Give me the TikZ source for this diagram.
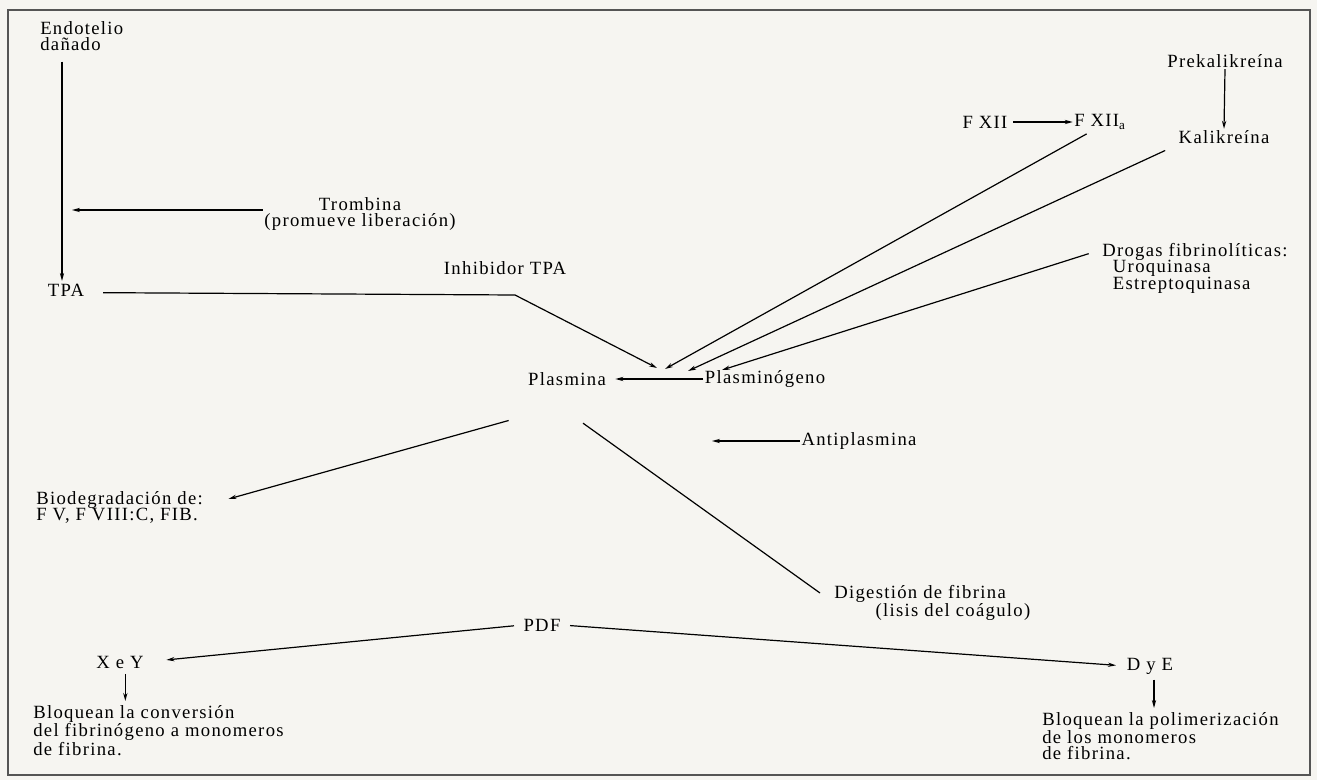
\documentclass[tikz,border=0pt]{standalone}
\usepackage{fontspec}
\setmainfont{Liberation Serif}[LetterSpace=7]
\usepackage{xcolor}
\usetikzlibrary{arrows.meta}

\definecolor{paper}{RGB}{246,245,241}
\definecolor{rule}{RGB}{85,85,85}

\tikzset{
  txt/.style={inner sep=1pt, font=\fontsize{14}{12.3}\selectfont},
  blk/.style={txt, inner sep=0pt, align=left, anchor=north west},
  arr/.style={-{Stealth[length=6pt,width=3.2pt]}, line width=0.9pt},
  ln/.style={line width=0.9pt}
}

\begin{document}
\begin{tikzpicture}[x=0.75pt,y=-0.75pt]
  \fill[paper] (0,0) rectangle (1317,780);
  \draw[rule, line width=1.1pt] (8,10) rectangle (1310,775);

  % nodes
  \node[blk] (endo) at (40,21) {Endotelio\\dañado};
  \node[txt,align=center] (trom) at (360,214) {Trombina\\(promueve liberación)};
  \node[txt] (tpa) at (66,290) {TPA};
  \node[txt] (inh) at (505,268) {Inhibidor TPA};
  \node[txt] (plas) at (567,379) {Plasmina};
  \node[txt] (plg) at (765,379) {Plasminógeno};
  \node[txt] (fxii) at (985,122) {F XII};
  \node[txt] (fxiia) at (1100,122) {F XII\textsubscript{a}};
  \node[txt] (prek) at (1225,61) {Prekalikreína};
  \node[txt] (kal) at (1224,137) {Kalikreína};
  \node[blk] (drog) at (1102,243) {Drogas fibrinolíticas:\\\hspace*{8pt}Uroquinasa\\\hspace*{8pt}Estreptoquinasa};
  \node[blk] (bio) at (36,491) {Biodegradación de:\\F V, F VIII:C, FIB.};
  \node[txt] (anti) at (859,441) {Antiplasmina};
  \node[blk] (dig) at (834,585) {Digestión de fibrina\\\hspace*{31pt}(lisis del coágulo)};
  \node[txt] (pdf) at (542,625) {PDF};
  \node[txt] (xey) at (120,662) {X e Y};
  \node[blk] (blq1) at (33,705) {Bloquean la conversión\\del fibrinógeno a monomeros\\de fibrina.};
  \node[txt] (dye) at (1150,666) {D y E};
  \node[blk] (blq2) at (1042,712) {Bloquean la polimerización\\de los monomeros\\de fibrina.};

  % free ends
  \coordinate (tromend) at (72,210);
  \coordinate (bend) at (515,295);
  \coordinate (tpin) at (657,368);
  \coordinate (tfx) at (665,369);
  \coordinate (tkal) at (688,371);
  \coordinate (tdrg) at (722,370);
  \coordinate (antiend) at (712,441);

  % connectors
  \draw[arr] ([xshift=16.5pt,yshift=-8pt]endo.south west) -- ([xshift=16.5pt,yshift=1pt]endo.south west |- tpa.north);
  \draw[arr] (trom.west |- tromend) -- (tromend);
  \draw[arr] ([xshift=13pt,yshift=-2pt]tpa.east) -- (bend) -- (tpin);
  \draw[arr, shorten >=6pt] (plg.west) -- (plas.east);
  \draw[arr, shorten <=3pt] (fxii.east) -- (fxiia.west);
  \draw[arr] (prek.south) -- (kal.north);
  \draw[arr] ([xshift=-10pt,yshift=-2pt]fxiia.south) -- (tfx);
  \draw[arr] ([xshift=-9pt,yshift=-4pt]kal.south west) -- (tkal);
  \draw[arr] ([xshift=-10pt,yshift=-8pt]drog.north west) -- (tdrg);
  \draw[arr] ([xshift=-13.5pt,yshift=-25pt]plas.south west) -- ([xshift=19pt,yshift=-6pt]bio.north east);
  \draw[ln] ([xshift=12pt,yshift=-27pt]plas.south) -- ([xshift=-10.5pt,yshift=-6pt]dig.north west);
  \draw[arr] (anti.west) -- (antiend);
  \draw[arr, shorten <=6pt, shorten >=16pt] (pdf.west) -- (xey.east);
  \draw[arr, shorten <=6pt, shorten >=7pt] (pdf.east) -- (dye.west);
  \draw[arr] ([xshift=4pt,yshift=-3pt]xey.south) -- ([xshift=4pt,yshift=3pt]xey.south |- blq1.north);
  \draw[arr] ([xshift=3pt,yshift=-3pt]dye.south) -- ([xshift=3pt,yshift=3pt]dye.south |- blq2.north);
\end{tikzpicture}
\end{document}
